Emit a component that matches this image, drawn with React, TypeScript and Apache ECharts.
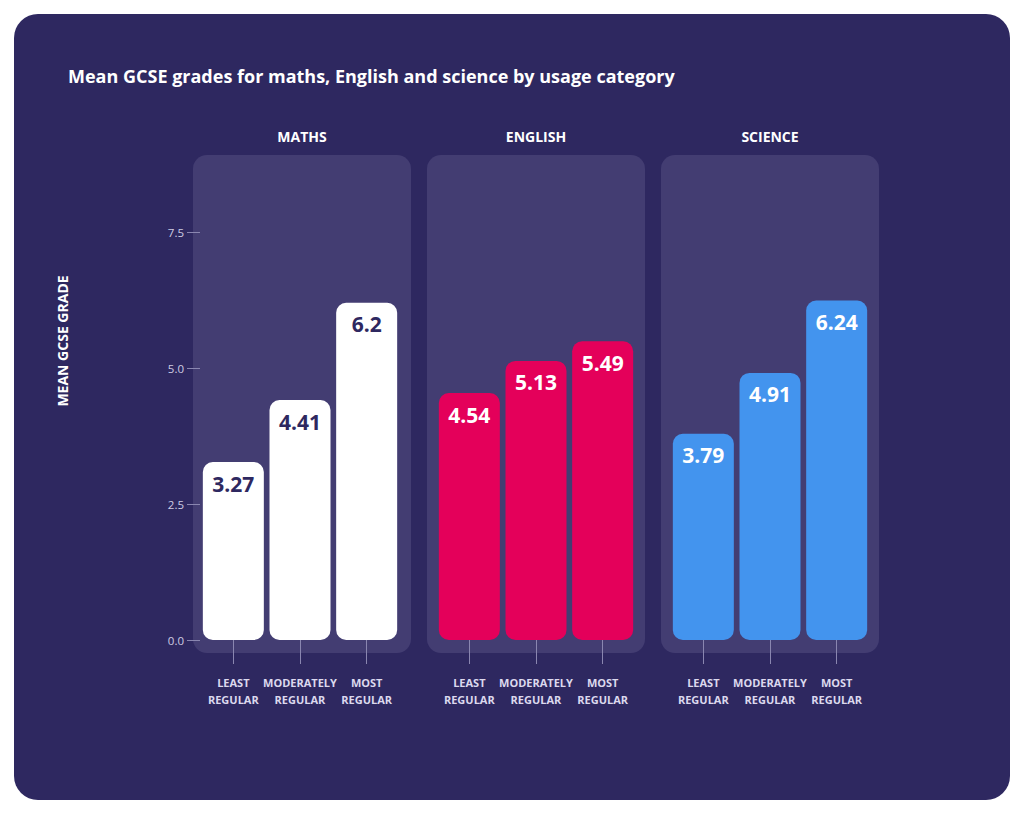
import React, { useEffect, useRef } from 'react';
import * as echarts from 'echarts';

const subjects = ['MATHS', 'ENGLISH', 'SCIENCE'];
const usageCategories = ['LEAST\nREGULAR', 'MODERATELY\nREGULAR', 'MOST\nREGULAR'];
const mathsGrades = [3.27, 4.41, 6.2];
const englishGrades = [4.54, 5.13, 5.49];
const scienceGrades = [3.79, 4.91, 6.24];
const yTicks = [0, 2.5, 5, 7.5];

const barColors = ['#ffffff', '#e4005a', '#4394ee'];
const labelColors = ['#2e2860', '#ffffff', '#ffffff'];

const FONT = '"Open Sans"';

const App: React.FC = () => {
  const chartRef = useRef<HTMLDivElement>(null);

  useEffect(() => {
    if (!chartRef.current) return;
    const chart = echarts.init(chartRef.current, undefined, { renderer: 'svg' });

    const seriesData = [mathsGrades, englishGrades, scienceGrades];
    const gridLefts = [200, 436, 670];
    const panelLefts = [193, 427, 661];
    const gridWidth = 200;

    const grids = gridLefts.map(left => ({ left, width: gridWidth, top: 232, height: 408 }));

    const xAxes = gridLefts.map((_, i) => ({
      type: 'category',
      gridIndex: i,
      data: usageCategories,
      offset: 3,
      axisLine: { show: false },
      axisTick: {
        show: true,
        interval: 0,
        alignWithLabel: true,
        length: 24,
        lineStyle: { color: '#8a86b0', width: 1 },
      },
      axisLabel: {
        interval: 0,
        margin: 31,
        color: '#dcd9ee',
        fontFamily: FONT,
        fontWeight: 'bold',
        fontSize: 11,
        lineHeight: 17,
      },
    }));

    const yAxes = gridLefts.map((_, i) => ({
      type: 'value',
      gridIndex: i,
      min: 0,
      max: yTicks[yTicks.length - 1],
      interval: 2.5,
      show: i === 0,
      axisLine: { show: false },
      axisTick: { show: true, length: 13, lineStyle: { color: '#8a86b0' } },
      splitLine: { show: false },
      axisLabel: {
        margin: 16,
        color: '#cfcce3',
        fontFamily: FONT,
        fontSize: 11.5,
        formatter: (v: number) => v.toFixed(1),
      },
    }));

    const series = seriesData.map((data, i) => ({
      name: subjects[i],
      type: 'bar',
      xAxisIndex: i,
      yAxisIndex: i,
      data,
      barWidth: 61,
      itemStyle: { color: barColors[i], borderRadius: 10 },
      label: {
        show: true,
        position: 'insideTop',
        distance: 11,
        color: labelColors[i],
        fontFamily: FONT,
        fontWeight: 'bold',
        fontSize: 21,
        formatter: (p: any) => String(p.value),
      },
    }));

    const panels = panelLefts.map(left => ({
      type: 'rect',
      z: -1,
      shape: { x: left, y: 155, width: 218, height: 498, r: 14 },
      style: { fill: '#433d72' },
    }));

    const subjectTitles = panelLefts.map((left, i) => ({
      type: 'text',
      x: left + 109,
      y: 136,
      style: {
        text: subjects[i],
        fill: '#ffffff',
        font: `bold 14px ${FONT}`,
        textAlign: 'center',
        textVerticalAlign: 'middle',
      },
    }));

    chart.setOption({
      animation: false,
      backgroundColor: '#ffffff',
      title: {
        text: 'Mean GCSE grades for maths, English and science by usage category',
        left: 63,
        top: 62,
        textStyle: { color: '#ffffff', fontFamily: FONT, fontWeight: 'bold', fontSize: 18 },
      },
      graphic: [
        {
          type: 'rect',
          z: -2,
          shape: { x: 14, y: 14, width: 996, height: 786, r: 24 },
          style: { fill: '#2e2860' },
        },
        ...panels,
        ...subjectTitles,
        {
          type: 'text',
          x: 62,
          y: 341,
          rotation: Math.PI / 2,
          style: {
            text: 'MEAN GCSE GRADE',
            fill: '#ffffff',
            font: `bold 14px ${FONT}`,
            textAlign: 'center',
            textVerticalAlign: 'middle',
          },
        },
      ],
      grid: grids,
      xAxis: xAxes,
      yAxis: yAxes,
      series,
    });

    return () => {
      chart.dispose();
    };
  }, []);

  return (
    <div
      ref={chartRef}
      style={{ position: 'absolute', left: 0, top: 0, width: '1024px', height: '815px' }}
    />
  );
};

export default App;
